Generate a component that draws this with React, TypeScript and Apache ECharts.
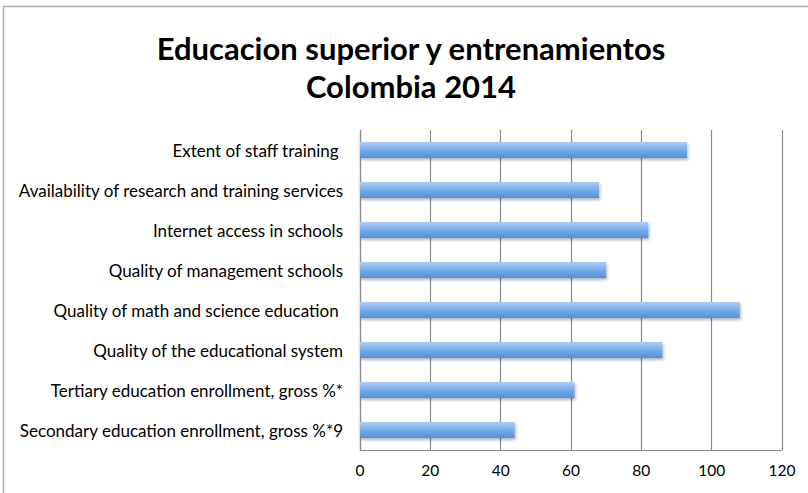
import React, { useEffect, useRef } from "react";
import * as echarts from "echarts";

const categories = [
  "Extent of staff training ",
  "Availability of research and training services",
  "Internet access in schools",
  "Quality of management schools",
  "Quality of math and science education ",
  "Quality of the educational system",
  "Tertiary education enrollment, gross %*",
  "Secondary education enrollment, gross %*9",
];
const values = [93, 68, 82, 70, 108, 86, 61, 44];
const titleLines = ["Educacion superior y entrenamientos", "Colombia 2014"];

export default function App() {
  const ref = useRef<HTMLDivElement>(null);
  useEffect(() => {
    document.body.style.margin = "0";
    const chart = echarts.init(ref.current!, null, { renderer: "svg" });
    chart.setOption({
      animation: false,
      backgroundColor: "#ffffff",
      title: {
        text: titleLines.join("\n"),
        left: 406,
        textAlign: "center",
        top: 24,
        textStyle: {
          fontFamily: "Lato",
          fontWeight: "bold",
          fontSize: 31,
          lineHeight: 38,
          color: "#000000",
        },
      },
      graphic: [
        {
          type: "rect",
          shape: { x: 3.5, y: 6.5, width: 820, height: 500 },
          style: { fill: "none", stroke: "#b0b0b0", lineWidth: 1.5 },
          silent: true,
        },
      ],
      grid: { left: 360, right: 26, top: 130, bottom: 43 },
      xAxis: {
        type: "value",
        min: 0,
        max: 120,
        interval: 20,
        axisLine: { show: true, lineStyle: { color: "#8a8a8a", width: 1.2 } },
        axisTick: { show: false },
        splitLine: { show: true, lineStyle: { color: "#8a8a8a", width: 1.2 } },
        axisLabel: {
          fontFamily: "Lato",
          fontSize: 15.5,
          color: "#000000",
          margin: 12,
        },
      },
      yAxis: {
        type: "category",
        data: categories,
        inverse: true,
        axisLine: { show: true, lineStyle: { color: "#8a8a8a", width: 1.2 } },
        axisTick: { show: false },
        axisLabel: {
          fontFamily: "Lato",
          fontSize: 17,
          color: "#000000",
          margin: 17,
        },
      },
      series: [
        {
          type: "bar",
          data: values,
          barWidth: 16,
          itemStyle: {
            color: new echarts.graphic.LinearGradient(0, 0, 0, 1, [
              { offset: 0, color: "#a9cdf5" },
              { offset: 0.5, color: "#78acea" },
              { offset: 1, color: "#5590d8" },
            ]),
            shadowColor: "rgba(0,0,0,0.3)",
            shadowBlur: 3,
            shadowOffsetY: 2,
            shadowOffsetX: 1,
          },
        },
      ],
    });
    return () => chart.dispose();
  }, []);
  return (
    <div
      ref={ref}
      style={{ position: "absolute", left: 0, top: 0, width: 808, height: 493 }}
    />
  );
}
